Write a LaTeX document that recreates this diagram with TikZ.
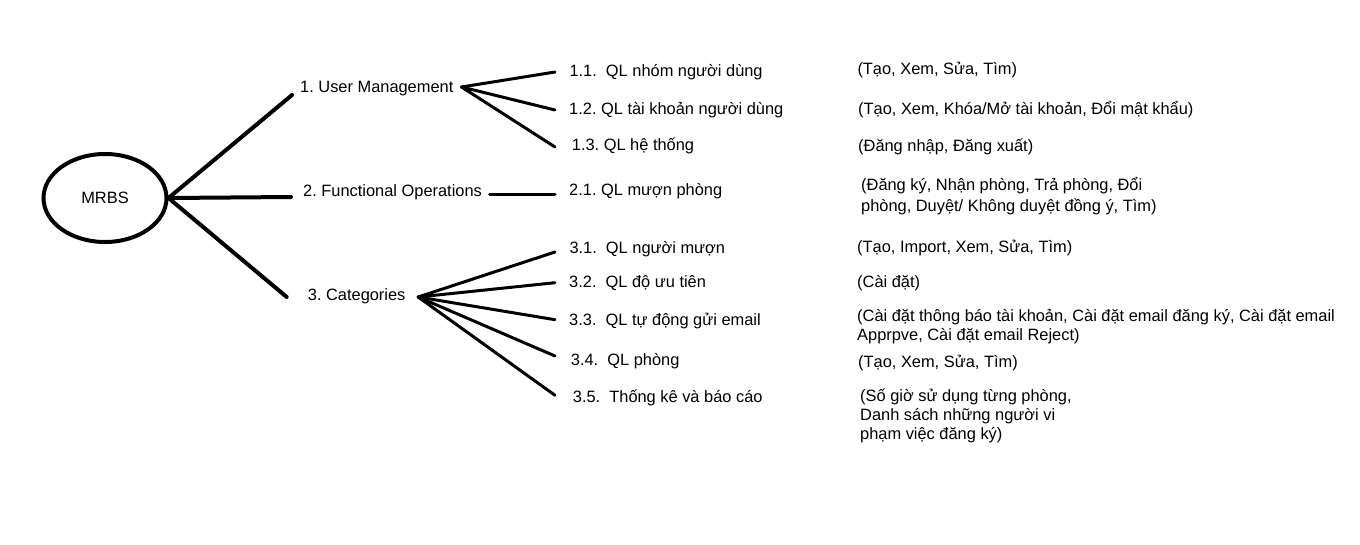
\documentclass[tikz,border=0pt]{standalone}
\usepackage{fontspec}
\setmainfont{Liberation Sans}
\usetikzlibrary{shapes.geometric}
\newcommand\mystrut{\rule[-4pt]{0pt}{18pt}}
\newcommand\myfont{\fontsize{16.4}{19}\selectfont\frenchspacing\lineskiplimit-20pt\relax}
\tikzset{
  basefont/.style={font=\myfont},
  lab/.style={basefont, inner sep=0pt, anchor=base west, execute at begin node=\mystrut},
  note/.style={basefont, inner sep=0pt, anchor=north west, align=left, execute at begin node=\mystrut},
  root/.style={basefont, ellipse, draw, line width=4pt, minimum width=123pt, minimum height=88pt, inner sep=0pt},
  lone/.style={line width=4pt, line cap=round},
  ltwo/.style={line width=3pt, line cap=round},
}
\begin{document}
\begin{tikzpicture}[x=1pt,y=-1pt]
\useasboundingbox (0,0) rectangle (1360,544);

\node[root] (mrbs) at (105,198) {MRBS};

\node[lab] (um)  at (300,92)    {1. User Management};
\node[lab] (fo)  at (303,196.7) {2. Functional Operations};
\node[lab] (cat) at (307.7,300.7) {3. Categories};

\node[lab] (n11) at (569.3,76)  {1.1.\ \ QL nhóm người dùng};
\node[lab] (n12) at (569,114)   {1.2. QL tài khoản người dùng};
\node[lab] (n13) at (571.7,150) {1.3. QL hệ thống};
\node[lab] (n21) at (569,195.7) {2.1. QL mượn phòng};
\node[lab] (n31) at (569.3,253.3) {3.1.\ \ QL người mượn};
\node[lab] (n32) at (569,287.3)   {3.2.\ \ QL độ ưu tiên};
\node[lab] (n33) at (569,325.7)   {3.3.\ \ QL tự động gửi email};
\node[lab] (n34) at (570.7,365.7) {3.4.\ \ QL phòng};
\node[lab] (n35) at (572.7,402.3) {3.5.\ \ Thống kê và báo cáo};

\node[lab] (d11) at (857.3,74.5)  {(Tạo, Xem, Sửa, Tìm)};
\node[lab] (d12) at (858,114.3) {(Tạo, Xem, Khóa/Mở tài khoản, Đổi mật khẩu)};
\node[lab] (d13) at (858,151)   {(Đăng nhập, Đăng xuất)};
\node[note] (d21) at (861,177.5)  {(Đăng ký, Nhận phòng, Trả phòng, Đổi\\[1.5pt]phòng, Duyệt/ Không duyệt đồng ý, Tìm)};
\node[lab] (d31) at (857,252.3) {(Tạo, Import, Xem, Sửa, Tìm)};
\node[lab] (d32) at (857,287.3) {(Cài đặt)};
\node[note] (d33) at (857,309)  {(Cài đặt thông báo tài khoản, Cài đặt email đăng ký, Cài đặt email\\Apprpve, Cài đặt email Reject)};
\node[lab] (d34) at (858,367.3) {(Tạo, Xem, Sửa, Tìm)};
\node[note] (d35) at (860,388.7) {(Số giờ sử dụng từng phòng,\\Danh sách những người vi\\phạm việc đăng ký)};

\draw[lone] (mrbs.east) -- ([shift={(-8,8)}]um.west);
\draw[lone] (mrbs.east) -- ([shift={(-12,5.3)}]fo.west);
\draw[lone] (mrbs.east) -- ([shift={(-21,1.3)}]cat.west);

\coordinate (umj) at ([shift={(8,0)}]um.east);
\draw[ltwo] (umj) -- ([shift={(-14.3,1)}]n11.west);
\draw[ltwo] (umj) -- ([shift={(-14,1)}]n12.west);
\draw[ltwo] (umj) -- ([shift={(-16.7,2)}]n13.west);

\draw[ltwo] ([shift={(7.5,2.3)}]fo.east) -- ([shift={(-14,3.3)}]n21.west);

\coordinate (catj) at ([shift={(12.5,1.3)}]cat.east);
\draw[ltwo] (catj) -- ([shift={(-14.3,3.7)}]n31.west);
\draw[ltwo] (catj) -- ([shift={(-14,0.4)}]n32.west);
\draw[ltwo] (catj) -- ([shift={(-14,-1)}]n33.west);
\draw[ltwo] (catj) -- ([shift={(-15.7,-4.7)}]n34.west);
\draw[ltwo] (catj) -- ([shift={(-17.7,-2)}]n35.west);
\end{tikzpicture}
\end{document}
